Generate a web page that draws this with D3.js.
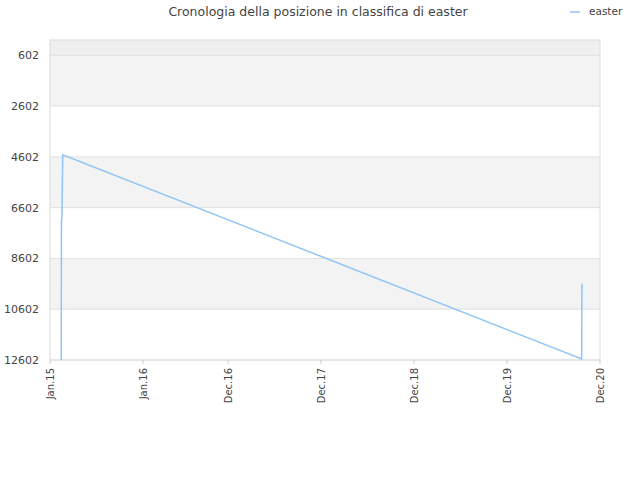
<!DOCTYPE html>
<html><head><meta charset="utf-8">
<script src="https://cdn.jsdelivr.net/npm/d3@7"></script>
<style>body{margin:0;background:#fff;font-family:"DejaVu Sans",sans-serif;}</style>
</head><body><svg id="c" width="640" height="480"></svg>
<script>
const dates = ["2015-02-14","2015-02-15","2015-02-17","2015-02-20","2020-09-20","2020-09-21"];
const ranks = [12602, 7100, 7000, 4520, 12560, 9600];
const yTicks = [602, 2602, 4602, 6602, 8602, 10602, 12602];
const xTickDates = ["2015-01-01","2016-01-01","2016-12-01","2017-12-01","2018-12-01","2019-12-01","2020-12-01"];
const xTickLabels = ["Jan.15","Jan.16","Dec.16","Dec.17","Dec.18","Dec.19","Dec.20"];
const bands = [[0,602,"#efefef"],[602,2602,"#f3f3f3"],[4602,6602,"#f3f3f3"],[8602,10602,"#f3f3f3"]];

const svg = d3.select("#c");
const L=50,R=600,T=40,B=360;
const x = d3.scaleTime().domain([new Date("2015-01-01"), new Date("2020-12-01")]).range([L,R]);
const y = d3.scaleLinear().domain([0,12602]).range([T,B]);

svg.selectAll(".band").data(bands).enter().append("rect")
 .attr("x",L).attr("width",R-L).attr("y",d=>y(d[0])).attr("height",d=>y(d[1])-y(d[0])).attr("fill",d=>d[2]);
svg.selectAll(".grid").data(yTicks).enter().append("line")
 .attr("x1",L).attr("x2",R).attr("y1",d=>y(d)).attr("y2",d=>y(d)).attr("stroke","#e0e0e0");
svg.append("rect").attr("x",L).attr("y",T).attr("width",R-L).attr("height",B-T).attr("fill","none").attr("stroke","#dcdcdc");

svg.selectAll(".yl").data(yTicks).enter().append("text")
 .attr("x",39).attr("y",d=>y(d)+4).attr("text-anchor","end").attr("font-size",11).attr("fill","#444").text(d=>d);
svg.selectAll(".xt").data(xTickDates).enter().append("line")
 .attr("x1",d=>x(new Date(d))).attr("x2",d=>x(new Date(d))).attr("y1",B).attr("y2",B+4).attr("stroke","#ccc");
svg.selectAll(".xl").data(xTickDates).enter().append("text")
 .attr("transform",d=>`translate(${x(new Date(d))+4},${B+8}) rotate(-90)`)
 .attr("text-anchor","end").attr("font-size",10).attr("fill","#444").text((d,i)=>xTickLabels[i]);

const line = d3.line().x((d,i)=>x(new Date(dates[i]))).y(d=>y(d));
svg.append("path").attr("d",line(ranks)).attr("fill","none").attr("stroke","#90c4f4").attr("stroke-width",1.5);

svg.append("text").attr("x",318).attr("y",16).attr("text-anchor","middle").attr("font-size",12.5).attr("fill","#444")
 .text("Cronologia della posizione in classifica di easter");
svg.append("line").attr("x1",570).attr("x2",580).attr("y1",12).attr("y2",12).attr("stroke","#90c4f4").attr("stroke-width",1.5);
svg.append("text").attr("x",589).attr("y",15).attr("font-size",10.5).attr("fill","#444").text("easter");
</script></body></html>
